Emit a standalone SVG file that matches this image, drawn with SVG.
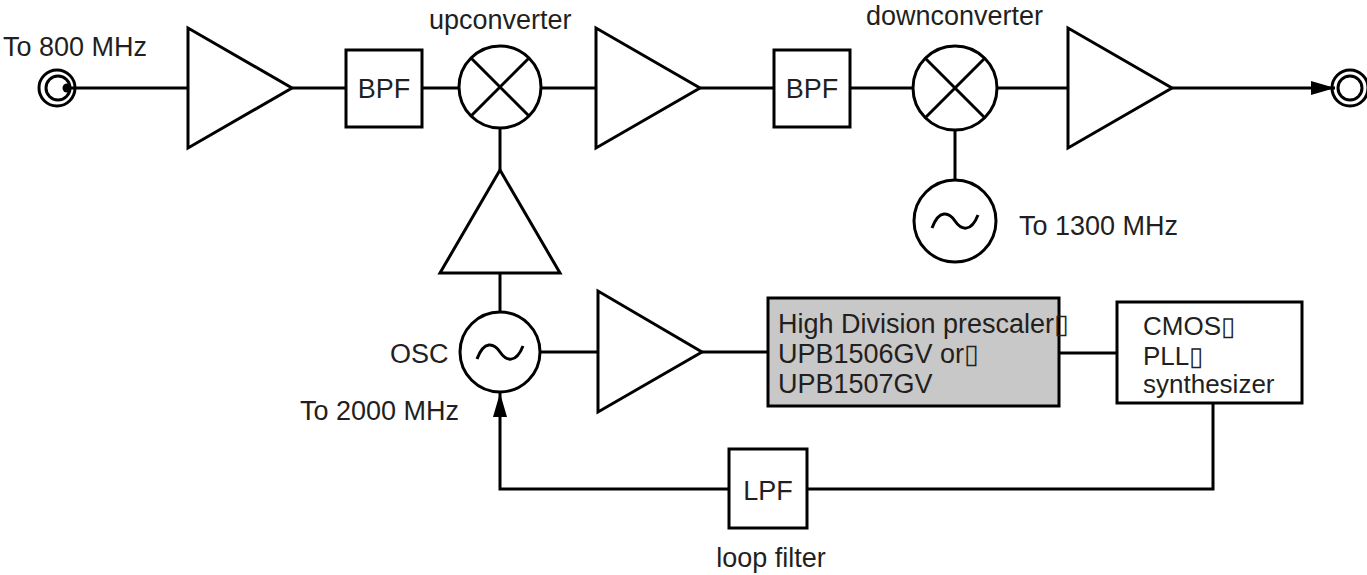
<svg xmlns="http://www.w3.org/2000/svg" width="1367" height="575" viewBox="0 0 1367 575">
<style>
.s{fill:none;stroke:#000;stroke-width:3;stroke-linejoin:miter}
.w{fill:#fff;stroke:#000;stroke-width:3}
.g{fill:#c8c8c8;stroke:#000;stroke-width:3}
.t{font-family:"Liberation Sans",Arial,sans-serif;font-size:27px;fill:#231f20}
.b{font-family:"Liberation Sans",Arial,sans-serif;font-size:26px;fill:#231f20}
.m{text-anchor:middle}
</style>
<defs>
<marker id="ah" markerUnits="userSpaceOnUse" markerWidth="24" markerHeight="14" refX="24" refY="7" orient="auto">
<path d="M0,0 L24,7 L0,14 z" fill="#000"/>
</marker>
<path id="tilde" d="M-23,7 C-16,-12 -6,-9 0,0 S16,12 23,-6" fill="none" stroke="#000" stroke-width="3"/>
</defs>
<rect width="1367" height="575" fill="#fff"/>
<g id="connectors">
<line class="s" x1="68" y1="88" x2="188" y2="88"/>
<line class="s" x1="292" y1="88" x2="346" y2="88"/>
<line class="s" x1="422" y1="88" x2="459" y2="88"/>
<line class="s" x1="541" y1="88" x2="596" y2="88"/>
<line class="s" x1="700" y1="88" x2="774" y2="88"/>
<line class="s" x1="850" y1="88" x2="913" y2="88"/>
<line class="s" x1="997" y1="88" x2="1068" y2="88"/>
<line class="s" x1="1172" y1="88" x2="1335" y2="88" marker-end="url(#ah)"/>
<line class="s" x1="500" y1="128" x2="500" y2="170"/>
<line class="s" x1="500" y1="273" x2="500" y2="312"/>
<line class="s" x1="955" y1="130" x2="955" y2="180"/>
<line class="s" x1="540" y1="352" x2="598" y2="352"/>
<line class="s" x1="702" y1="352" x2="768" y2="352"/>
<line class="s" x1="1059" y1="353" x2="1117" y2="353"/>
<path class="s" d="M1213,403 V489 H807"/>
<path class="s" d="M729,489 H500 V393" marker-end="url(#ah)"/>
</g>
<g id="input">
<circle class="s" cx="57" cy="88" r="18"/>
<circle class="s" cx="58" cy="88" r="12"/>
<circle cx="67" cy="88" r="4.5" fill="#000"/>
<text class="t" x="3" y="56">To 800 MHz</text>
</g>
<g id="amp1"><polygon class="w" points="188,28 188,148 292,88"/></g>
<g id="bpf1"><rect class="w" x="346" y="50" width="76" height="77"/><text class="t m" x="384" y="98">BPF</text></g>
<g id="upconverter">
<circle class="w" cx="500" cy="87" r="41"/>
<path class="s" d="M471,58 L529,116 M529,58 L471,116"/>
<text class="t" x="429" y="29">upconverter</text>
</g>
<g id="amp2"><polygon class="w" points="596,28 596,148 700,88"/></g>
<g id="bpf2"><rect class="w" x="774" y="50" width="76" height="77"/><text class="t m" x="812" y="98">BPF</text></g>
<g id="downconverter">
<circle class="w" cx="955" cy="88" r="42"/>
<path class="s" d="M925,58 L985,118 M985,58 L925,118"/>
<text class="t" x="866" y="25">downconverter</text>
</g>
<g id="amp3"><polygon class="w" points="1068,28 1068,148 1172,88"/></g>
<g id="output">
<circle class="s" cx="1350" cy="88" r="18"/>
<circle class="s" cx="1350" cy="88" r="12"/>
</g>
<g id="lo1300">
<circle class="w" cx="955" cy="221" r="41"/>
<use href="#tilde" x="955" y="221"/>
<text class="t" x="1019" y="235">To 1300 MHz</text>
</g>
<g id="lo-amp"><polygon class="w" points="500,170 560,273 440,273"/></g>
<g id="osc">
<circle class="w" cx="500" cy="352" r="40"/>
<use href="#tilde" x="500" y="352"/>
<text class="t" x="390" y="363">OSC</text>
<text class="t" x="300" y="420">To 2000 MHz</text>
</g>
<g id="amp4"><polygon class="w" points="598,291 598,412 702,352"/></g>
<g id="prescaler">
<rect class="g" x="768" y="298" width="291" height="108"/>
<text class="t" x="778" y="333">High Division prescaler▯</text>
<text class="t" x="778" y="363">UPB1506GV or▯</text>
<text class="t" x="778" y="393">UPB1507GV</text>
</g>
<g id="pll">
<rect class="w" x="1117" y="302" width="185" height="101"/>
<text class="b" x="1143" y="335">CMOS▯</text>
<text class="b" x="1143" y="365">PLL▯</text>
<text class="b" x="1143" y="393">synthesizer</text>
</g>
<g id="lpf">
<rect class="w" x="729" y="449" width="78" height="79"/>
<text class="t m" x="768" y="500">LPF</text>
<text class="t m" x="771" y="567">loop filter</text>
</g>
</svg>
